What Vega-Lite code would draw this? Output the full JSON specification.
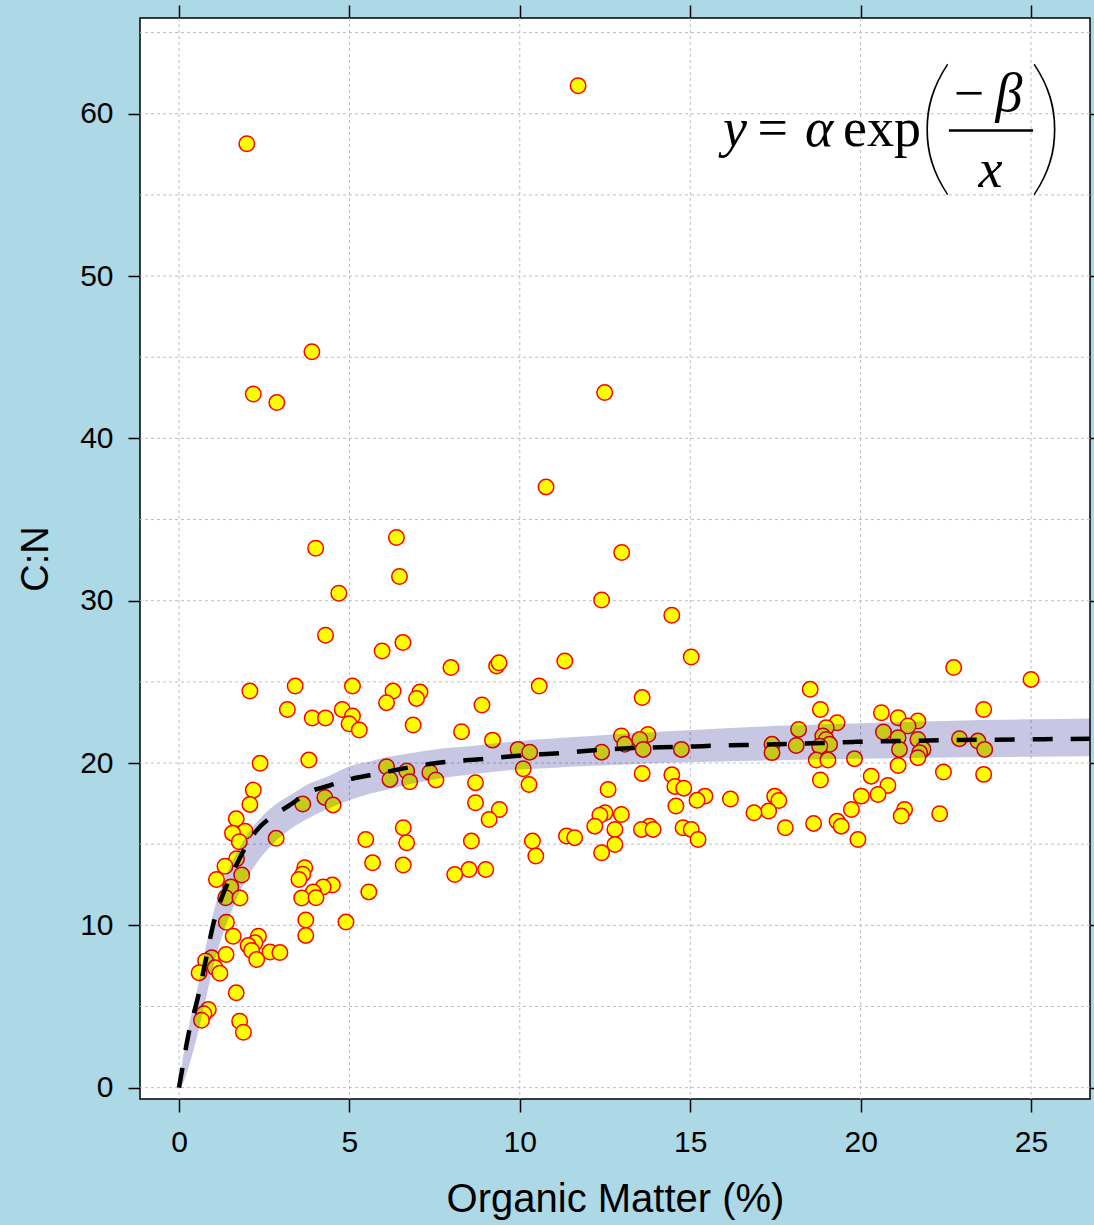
{
  "$schema": "https://vega.github.io/schema/vega-lite/v6.json",
  "background": "#ADD8E6",
  "autosize": {"type": "none"},
  "padding": {"left": 140, "top": 18, "right": 4, "bottom": 126},
  "width": 950,
  "height": 1081,
  "config": {
    "view": {"stroke": "black", "strokeWidth": 1.5, "fill": "white"},
    "axis": {"labelFont": "Liberation Sans", "titleFont": "Liberation Sans", "labelColor": "black", "titleColor": "black", "tickColor": "black", "tickWidth": 1.5, "domain": false, "grid": false, "titleFontWeight": "normal"}
  },
  "datasets": {
    "gx": [{"g": 0}, {"g": 5}, {"g": 10}, {"g": 15}, {"g": 20}, {"g": 25}],
    "gy": [{"g": 0}, {"g": 5}, {"g": 10}, {"g": 15}, {"g": 20}, {"g": 25}, {"g": 30}, {"g": 35}, {"g": 40}, {"g": 45}, {"g": 50}, {"g": 55}, {"g": 60}, {"g": 65}],
    "pts": [
      {"om": 1.99, "cn": 58.15}, {"om": 11.71, "cn": 61.73}, {"om": 3.90, "cn": 45.34}, {"om": 2.18, "cn": 42.73}, {"om": 2.87, "cn": 42.21},
      {"om": 12.49, "cn": 42.83}, {"om": 10.77, "cn": 37.01}, {"om": 4.01, "cn": 33.23}, {"om": 6.38, "cn": 33.89}, {"om": 12.99, "cn": 32.97},
      {"om": 6.47, "cn": 31.49}, {"om": 4.69, "cn": 30.46}, {"om": 12.4, "cn": 30.04}, {"om": 14.46, "cn": 29.1},
      {"om": 4.30, "cn": 27.87}, {"om": 6.57, "cn": 27.42}, {"om": 5.96, "cn": 26.9}, {"om": 7.98, "cn": 25.88}, {"om": 9.32, "cn": 25.98},
      {"om": 9.39, "cn": 26.18}, {"om": 11.32, "cn": 26.29}, {"om": 15.03, "cn": 26.53}, {"om": 22.73, "cn": 25.88}, {"om": 25.0, "cn": 25.15},
      {"om": 2.08, "cn": 24.43}, {"om": 3.41, "cn": 24.74}, {"om": 5.09, "cn": 24.74}, {"om": 6.28, "cn": 24.43}, {"om": 10.57, "cn": 24.74},
      {"om": 18.52, "cn": 24.54}, {"om": 7.07, "cn": 24.37}, {"om": 6.97, "cn": 23.98}, {"om": 13.59, "cn": 24.03}, {"om": 6.09, "cn": 23.72},
      {"om": 8.89, "cn": 23.57}, {"om": 3.18, "cn": 23.3}, {"om": 4.79, "cn": 23.3}, {"om": 18.82, "cn": 23.3}, {"om": 23.61, "cn": 23.3},
      {"om": 20.61, "cn": 23.1}, {"om": 5.09, "cn": 22.9}, {"om": 3.91, "cn": 22.77}, {"om": 4.30, "cn": 22.77}, {"om": 21.1, "cn": 22.79},
      {"om": 21.68, "cn": 22.59}, {"om": 19.31, "cn": 22.48}, {"om": 4.99, "cn": 22.42}, {"om": 6.87, "cn": 22.34}, {"om": 21.39, "cn": 22.28},
      {"om": 18.99, "cn": 22.18}, {"om": 18.18, "cn": 22.07}, {"om": 5.29, "cn": 22.03}, {"om": 8.29, "cn": 21.93}, {"om": 20.67, "cn": 21.91},
      {"om": 12.98, "cn": 21.66}, {"om": 13.76, "cn": 21.76}, {"om": 18.89, "cn": 21.66}, {"om": 21.1, "cn": 21.56}, {"om": 22.9, "cn": 21.5},
      {"om": 13.52, "cn": 21.45}, {"om": 18.99, "cn": 21.45}, {"om": 21.68, "cn": 21.45}, {"om": 9.2, "cn": 21.41}, {"om": 23.44, "cn": 21.35},
      {"om": 13.08, "cn": 21.15}, {"om": 17.4, "cn": 21.15}, {"om": 19.09, "cn": 21.15}, {"om": 18.11, "cn": 21.08}, {"om": 18.8, "cn": 21.04},
      {"om": 9.95, "cn": 20.84}, {"om": 13.62, "cn": 20.84}, {"om": 14.74, "cn": 20.84}, {"om": 21.14, "cn": 20.84}, {"om": 21.83, "cn": 20.84},
      {"om": 23.64, "cn": 20.84}, {"om": 10.29, "cn": 20.67}, {"om": 12.4, "cn": 20.67}, {"om": 17.4, "cn": 20.64}, {"om": 21.73, "cn": 20.64},
      {"om": 21.68, "cn": 20.33}, {"om": 19.82, "cn": 20.27}, {"om": 18.7, "cn": 20.18}, {"om": 19.04, "cn": 20.18}, {"om": 3.81, "cn": 20.18},
      {"om": 2.38, "cn": 19.98}, {"om": 21.1, "cn": 19.85}, {"om": 6.09, "cn": 19.77}, {"om": 10.1, "cn": 19.65}, {"om": 6.68, "cn": 19.51},
      {"om": 7.36, "cn": 19.42}, {"om": 22.43, "cn": 19.44}, {"om": 13.59, "cn": 19.36}, {"om": 14.46, "cn": 19.27}, {"om": 23.61, "cn": 19.3},
      {"om": 20.31, "cn": 19.19}, {"om": 6.19, "cn": 18.99}, {"om": 7.54, "cn": 18.96}, {"om": 18.82, "cn": 18.95}, {"om": 6.77, "cn": 18.85},
      {"om": 8.7, "cn": 18.79}, {"om": 10.27, "cn": 18.68}, {"om": 20.8, "cn": 18.62}, {"om": 14.55, "cn": 18.56}, {"om": 14.81, "cn": 18.45},
      {"om": 12.59, "cn": 18.37}, {"om": 2.18, "cn": 18.33}, {"om": 20.51, "cn": 18.06}, {"om": 15.43, "cn": 17.96}, {"om": 20.02, "cn": 17.96},
      {"om": 17.48, "cn": 17.96}, {"om": 4.28, "cn": 17.88}, {"om": 16.18, "cn": 17.78}, {"om": 15.2, "cn": 17.7}, {"om": 17.6, "cn": 17.69},
      {"om": 8.7, "cn": 17.55}, {"om": 2.08, "cn": 17.45}, {"om": 3.63, "cn": 17.47}, {"om": 4.52, "cn": 17.42}, {"om": 14.58, "cn": 17.35},
      {"om": 9.4, "cn": 17.14}, {"om": 19.73, "cn": 17.14}, {"om": 21.29, "cn": 17.14}, {"om": 17.3, "cn": 17.04}, {"om": 16.87, "cn": 16.94},
      {"om": 12.5, "cn": 16.94}, {"om": 12.98, "cn": 16.83}, {"om": 12.35, "cn": 16.78}, {"om": 22.32, "cn": 16.87}, {"om": 21.19, "cn": 16.73},
      {"om": 1.68, "cn": 16.56}, {"om": 9.1, "cn": 16.52}, {"om": 19.31, "cn": 16.42}, {"om": 18.62, "cn": 16.28}, {"om": 12.2, "cn": 16.11},
      {"om": 13.81, "cn": 16.11}, {"om": 19.43, "cn": 16.11}, {"om": 6.58, "cn": 16.01}, {"om": 14.79, "cn": 16.01}, {"om": 17.79, "cn": 16.01},
      {"om": 12.79, "cn": 15.91}, {"om": 13.57, "cn": 15.91}, {"om": 13.91, "cn": 15.91}, {"om": 15.03, "cn": 15.91}, {"om": 1.94, "cn": 15.8},
      {"om": 1.57, "cn": 15.68}, {"om": 11.37, "cn": 15.5}, {"om": 11.61, "cn": 15.4}, {"om": 2.85, "cn": 15.36}, {"om": 1.77, "cn": 15.15},
      {"om": 5.48, "cn": 15.29}, {"om": 15.23, "cn": 15.29}, {"om": 19.92, "cn": 15.29}, {"om": 10.37, "cn": 15.19}, {"om": 8.58, "cn": 15.19},
      {"om": 6.68, "cn": 15.09}, {"om": 12.79, "cn": 14.98}, {"om": 12.4, "cn": 14.47}, {"om": 10.47, "cn": 14.27}, {"om": 1.69, "cn": 14.1},
      {"om": 5.68, "cn": 13.85}, {"om": 6.58, "cn": 13.71}, {"om": 1.35, "cn": 13.64}, {"om": 3.69, "cn": 13.55}, {"om": 1.84, "cn": 13.1},
      {"om": 3.63, "cn": 13.15}, {"om": 8.51, "cn": 13.44}, {"om": 9.0, "cn": 13.44}, {"om": 8.09, "cn": 13.13}, {"om": 1.1, "cn": 12.82},
      {"om": 3.52, "cn": 12.82}, {"om": 4.5, "cn": 12.48}, {"om": 4.23, "cn": 12.36}, {"om": 1.52, "cn": 12.36}, {"om": 3.94, "cn": 12.05},
      {"om": 5.57, "cn": 12.06}, {"om": 1.37, "cn": 11.7}, {"om": 1.79, "cn": 11.68}, {"om": 3.6, "cn": 11.68}, {"om": 4.02, "cn": 11.7},
      {"om": 3.72, "cn": 10.33}, {"om": 1.39, "cn": 10.19}, {"om": 4.9, "cn": 10.2}, {"om": 1.59, "cn": 9.33}, {"om": 3.72, "cn": 9.38},
      {"om": 2.33, "cn": 9.33}, {"om": 2.23, "cn": 8.92}, {"om": 2.03, "cn": 8.75}, {"om": 2.13, "cn": 8.45}, {"om": 2.67, "cn": 8.35},
      {"om": 2.96, "cn": 8.32}, {"om": 2.28, "cn": 7.89}, {"om": 0.96, "cn": 8.0}, {"om": 1.38, "cn": 8.2}, {"om": 0.78, "cn": 7.8},
      {"om": 1.06, "cn": 7.38}, {"om": 0.59, "cn": 7.08}, {"om": 1.2, "cn": 7.05}, {"om": 1.68, "cn": 5.84}, {"om": 0.86, "cn": 4.81},
      {"om": 0.73, "cn": 4.55}, {"om": 0.66, "cn": 4.15}, {"om": 1.78, "cn": 4.09}, {"om": 1.89, "cn": 3.41}
    ],
    "fit": [
      {"om": 0, "cn": 0, "lo": 0, "hi": 0}, {"om": 0.1, "cn": 1.2, "lo": 0.2, "hi": 1.6}, {"om": 0.27, "cn": 3.2, "lo": 1.2, "hi": 3.6},
      {"om": 0.55, "cn": 5.5, "lo": 3.3, "hi": 6.2}, {"om": 0.8, "cn": 8.0, "lo": 5.6, "hi": 8.8}, {"om": 1.0, "cn": 10.0, "lo": 7.4, "hi": 10.7},
      {"om": 1.2, "cn": 11.4, "lo": 8.9, "hi": 12.1}, {"om": 1.45, "cn": 12.7, "lo": 10.4, "hi": 13.4}, {"om": 1.75, "cn": 14.0, "lo": 11.9, "hi": 14.7},
      {"om": 2.0, "cn": 15.0, "lo": 12.9, "hi": 15.6}, {"om": 2.3, "cn": 15.9, "lo": 13.9, "hi": 16.4}, {"om": 2.8, "cn": 16.8, "lo": 15.1, "hi": 17.4},
      {"om": 3.25, "cn": 17.4, "lo": 15.9, "hi": 18.0}, {"om": 3.8, "cn": 18.2, "lo": 16.6, "hi": 18.7}, {"om": 4.4, "cn": 18.6, "lo": 17.2, "hi": 19.2},
      {"om": 5.0, "cn": 19.0, "lo": 17.7, "hi": 19.8}, {"om": 5.6, "cn": 19.25, "lo": 18.1, "hi": 20.1}, {"om": 6.2, "cn": 19.5, "lo": 18.4, "hi": 20.4},
      {"om": 6.8, "cn": 19.75, "lo": 18.7, "hi": 20.6}, {"om": 7.4, "cn": 19.95, "lo": 18.95, "hi": 20.8}, {"om": 8.0, "cn": 20.1, "lo": 19.15, "hi": 20.95},
      {"om": 8.5, "cn": 20.18, "lo": 19.28, "hi": 21.03}, {"om": 9.2, "cn": 20.3, "lo": 19.45, "hi": 21.2}, {"om": 9.7, "cn": 20.4, "lo": 19.55, "hi": 21.3},
      {"om": 10.3, "cn": 20.5, "lo": 19.63, "hi": 21.42}, {"om": 10.9, "cn": 20.57, "lo": 19.7, "hi": 21.5}, {"om": 11.6, "cn": 20.68, "lo": 19.78, "hi": 21.6},
      {"om": 12.1, "cn": 20.77, "lo": 19.83, "hi": 21.67}, {"om": 12.7, "cn": 20.86, "lo": 19.88, "hi": 21.75}, {"om": 13.3, "cn": 20.92, "lo": 19.93, "hi": 21.83},
      {"om": 13.9, "cn": 20.96, "lo": 19.98, "hi": 21.9}, {"om": 14.5, "cn": 20.99, "lo": 20.02, "hi": 21.97}, {"om": 15.1, "cn": 21.02, "lo": 20.06, "hi": 22.04},
      {"om": 15.6, "cn": 21.06, "lo": 20.08, "hi": 22.1}, {"om": 16.2, "cn": 21.09, "lo": 20.11, "hi": 22.16}, {"om": 16.8, "cn": 21.11, "lo": 20.14, "hi": 22.22},
      {"om": 18.0, "cn": 21.18, "lo": 20.19, "hi": 22.32}, {"om": 18.6, "cn": 21.21, "lo": 20.21, "hi": 22.36}, {"om": 19.2, "cn": 21.25, "lo": 20.24, "hi": 22.4},
      {"om": 19.8, "cn": 21.3, "lo": 20.26, "hi": 22.44}, {"om": 20.3, "cn": 21.33, "lo": 20.28, "hi": 22.47}, {"om": 21.0, "cn": 21.35, "lo": 20.3, "hi": 22.51},
      {"om": 22.0, "cn": 21.39, "lo": 20.33, "hi": 22.57}, {"om": 23.0, "cn": 21.42, "lo": 20.35, "hi": 22.62}, {"om": 24.0, "cn": 21.44, "lo": 20.37, "hi": 22.66},
      {"om": 25.0, "cn": 21.46, "lo": 20.38, "hi": 22.69}, {"om": 26.73, "cn": 21.5, "lo": 20.41, "hi": 22.74}
    ],
    "ital": [{"tx": 16.31, "ty": 58.03, "t": "y"}, {"tx": 18.78, "ty": 58.03, "t": "α"}, {"tx": 24.35, "ty": 60.2, "t": "β"}, {"tx": 23.81, "ty": 55.5, "t": "x"}],
    "norm": [{"tx": 17.42, "ty": 58.03, "t": "="}, {"tx": 20.63, "ty": 58.03, "t": "exp"}, {"tx": 23.18, "ty": 60.2, "t": "−"}],
    "paren": [{"tx": 22.2, "ty": 56.12, "t": "("}, {"tx": 25.45, "ty": 56.12, "t": ")"}],
    "bar": [{"x1": 22.59, "x2": 25.06, "ty": 58.97}]
  },
  "resolve": {"axis": {"x": "independent", "y": "independent"}},
  "layer": [
    {
      "data": {"name": "gx"},
      "mark": {"type": "rule", "color": "#BEBEBE", "strokeWidth": 1, "strokeDash": [3, 3]},
      "encoding": {
        "x": {"field": "g", "type": "quantitative", "scale": {"domain": [-1.144, 26.73], "nice": false, "zero": false},
              "axis": {"orient": "top", "values": [0, 5, 10, 15, 20, 25], "labels": false, "tickSize": 13, "title": null}}
      }
    },
    {
      "data": {"name": "gy"},
      "mark": {"type": "rule", "color": "#BEBEBE", "strokeWidth": 1, "strokeDash": [3, 3]},
      "encoding": {
        "y": {"field": "g", "type": "quantitative", "scale": {"domain": [-0.70, 65.9], "nice": false, "zero": false},
              "axis": {"orient": "right", "values": [0, 10, 20, 30, 40, 50, 60], "labels": false, "tickSize": 12, "title": null}}
      }
    },
    {
      "data": {"name": "pts"},
      "mark": {"type": "point", "shape": "circle", "filled": true, "fill": "#FFFF00", "stroke": "#FF0000", "strokeWidth": 1.5, "size": 240, "opacity": 1},
      "encoding": {
        "x": {"field": "om", "type": "quantitative",
              "axis": {"orient": "bottom", "values": [0, 5, 10, 15, 20, 25], "tickSize": 13, "labelFontSize": 30, "labelPadding": 15,
                       "title": "Organic Matter (%)", "titleFontSize": 40, "titlePadding": 22}},
        "y": {"field": "cn", "type": "quantitative",
              "axis": {"orient": "left", "values": [0, 10, 20, 30, 40, 50, 60], "tickSize": 12, "labelFontSize": 30, "labelPadding": 15,
                       "title": "C:N", "titleFontSize": 38, "titlePadding": 24}}
      }
    },
    {
      "data": {"name": "fit"},
      "mark": {"type": "area", "color": "#000080", "opacity": 0.22, "interpolate": "monotone"},
      "encoding": {
        "x": {"field": "om", "type": "quantitative", "axis": null},
        "y": {"field": "lo", "type": "quantitative", "axis": null},
        "y2": {"field": "hi"}
      }
    },
    {
      "data": {"name": "fit"},
      "mark": {"type": "line", "color": "black", "strokeWidth": 4.5, "strokeDash": [20, 18], "interpolate": "monotone"},
      "encoding": {
        "x": {"field": "om", "type": "quantitative", "axis": null},
        "y": {"field": "cn", "type": "quantitative", "axis": null}
      }
    },
    {
      "data": {"name": "ital"},
      "mark": {"type": "text", "font": "Liberation Serif", "fontStyle": "italic", "fontSize": 54, "align": "center", "baseline": "alphabetic", "color": "black"},
      "encoding": {
        "x": {"field": "tx", "type": "quantitative", "axis": null},
        "y": {"field": "ty", "type": "quantitative", "axis": null},
        "text": {"field": "t"}
      }
    },
    {
      "data": {"name": "norm"},
      "mark": {"type": "text", "font": "Liberation Serif", "fontSize": 54, "align": "center", "baseline": "alphabetic", "color": "black"},
      "encoding": {
        "x": {"field": "tx", "type": "quantitative", "axis": null},
        "y": {"field": "ty", "type": "quantitative", "axis": null},
        "text": {"field": "t"}
      }
    },
    {
      "data": {"name": "paren"},
      "mark": {"type": "text", "font": "Lato", "fontWeight": 100, "fontSize": 150, "align": "center", "baseline": "alphabetic", "color": "black"},
      "encoding": {
        "x": {"field": "tx", "type": "quantitative", "axis": null},
        "y": {"field": "ty", "type": "quantitative", "axis": null},
        "text": {"field": "t"}
      }
    },
    {
      "data": {"name": "bar"},
      "mark": {"type": "rule", "color": "black", "strokeWidth": 2.5},
      "encoding": {
        "x": {"field": "x1", "type": "quantitative", "axis": null},
        "x2": {"field": "x2"},
        "y": {"field": "ty", "type": "quantitative", "axis": null}
      }
    }
  ]
}
